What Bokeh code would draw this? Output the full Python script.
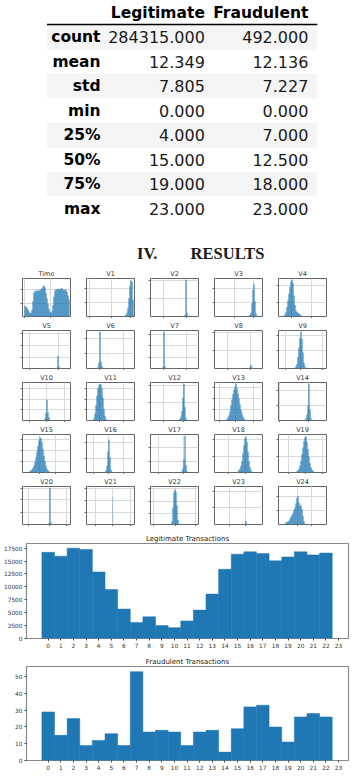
from bokeh.plotting import figure
from bokeh.layouts import column, gridplot
from bokeh.models import Range1d, FixedTicker
from bokeh.core.properties import value
from bokeh.embed import file_html
from bokeh.resources import INLINE

# ---------------- data ----------------
TABLE_COLUMNS = ["Legitimate", "Fraudulent"]
STAT_NAMES = ["count", "mean", "std", "min", "25%", "50%", "75%", "max"]
LEGIT_STATS = [284315.000, 12.349, 7.805, 0.000, 4.000, 15.000, 19.000, 23.000]
FRAUD_STATS = [492.000, 12.136, 7.227, 0.000, 7.000, 12.500, 18.000, 23.000]

HEADING_NUM = "IV."
HEADING_TEXT = "RESULTS"

PANEL_NAMES = ["Time", "V1", "V2", "V3", "V4", "V5", "V6", "V7", "V8", "V9",
               "V10", "V11", "V12", "V13", "V14", "V15", "V16", "V17", "V18", "V19",
               "V20", "V21", "V22", "V23", "V24"]
PANEL_FIRST_BIN = [2, 37, 33, 34, 5, 34, 11, 12, 35, 16,
                   22, 6, 28, 11, 26, 5, 18, 31, 22, 17,
                   26, 26, 21, 30, 7]
PANEL_COUNTS = [
    [27, 26, 23, 18, 14, 10, 9, 18, 40, 62, 68, 66, 69, 67, 70, 68, 72, 74, 78, 82,
     76, 62, 48, 32, 20, 12, 9, 14, 30, 52, 68, 72, 70, 73, 71, 74, 72, 75, 70, 72,
     69, 71, 65, 55, 45],
    [1, 2, 4, 10, 22, 48, 80, 95, 92, 45],
    [1, 4, 97, 10, 2],
    [2, 4, 10, 35, 70, 85, 40, 8, 2],
    [2, 5, 12, 25, 42, 60, 78, 92, 97, 88, 55, 30, 16, 12, 9, 7, 6, 3, 1],
    [2, 33, 5],
    [3, 15, 96, 18, 6, 2],
    [4, 97, 6],
    [3, 10, 3],
    [2, 5, 12, 30, 55, 80, 97, 78, 42, 15, 5, 2],
    [5, 20, 55, 22, 8, 2],
    [2, 5, 18, 40, 65, 85, 93, 96, 95, 85, 60, 30, 12, 4, 1],
    [2, 4, 10, 25, 60, 97, 35, 6, 1],
    [1, 4, 8, 14, 24, 40, 55, 70, 80, 88, 97, 85, 72, 58, 42, 28, 18, 10, 5, 2, 1],
    [2, 5, 15, 40, 97, 30, 5, 1],
    [1, 2, 3, 5, 8, 12, 18, 28, 40, 55, 70, 84, 92, 90, 80, 62, 45, 30, 18, 10, 5, 3, 1],
    [2, 5, 18, 55, 86, 40, 8, 2],
    [3, 10, 35, 97, 20, 3],
    [1, 3, 6, 10, 18, 30, 50, 72, 90, 95, 80, 55, 30, 14, 6, 2],
    [1, 3, 6, 10, 18, 30, 48, 66, 82, 92, 95, 80, 62, 42, 25, 14, 8, 4, 2, 1],
    [3, 97, 5],
    [73],
    [8, 45, 85, 92, 86, 50, 12, 2],
    [2, 9, 2],
    [5, 6, 8, 10, 15, 20, 25, 30, 38, 45, 55, 70, 75, 58, 48, 52, 40, 22, 8, 2],
]
PANEL_XTICKS = [
    [2, 28], [3, 25, 44], [13, 35.5], [19.5, 39], [13, 33],
    [7, 36], [13, 36.5], [13, 36], [13, 36], [7, 22, 44],
    [6.5, 24, 42], [13, 36.5], [13, 32.5], [4.6, 21, 39], [1, 30],
    [17, 32.5], [7, 22, 36.6], [8, 33.4], [13.7, 30.7], [9.7, 26.6, 43.8],
    [5.5, 27, 44], [8.8, 26, 43.8], [3, 25, 45], [15.4, 31], [18.5, 33.4],
]
PANEL_YTICKS = [
    [35, 70], [37, 75], [48, 94], [38, 75], [38, 82],
    [30, 61, 92], [40, 79], [28, 60, 90], [48, 94], [48, 86],
    [28, 56, 83], [28, 56, 84], [47, 92], [30, 58, 87], [39, 79],
    [28, 57, 86], [38, 78], [30, 65], [42, 86], [42, 86],
    [32, 65, 94], [32, 62, 94], [28, 61, 94], [44, 86], [38, 75],
]

HOURS = list(range(23))
HOUR_TICKS = list(range(24))
LEGIT_COUNTS = [16700, 15950, 17500, 17250, 12900, 9500, 5700, 3100, 4200, 2500, 2100,
                3400, 5500, 8600, 13400, 16350, 16800, 16450, 15050, 15800, 16800, 16200, 16550]
FRAUD_COUNTS = [29, 15, 25, 9, 12, 16, 9, 53, 17, 18, 17, 9, 17, 18, 5, 19, 32, 33, 20, 11, 26, 28, 26]
LEGIT_YTICKS = [0, 2500, 5000, 7500, 10000, 12500, 15000, 17500]
FRAUD_YTICKS = [0, 10, 20, 30, 40, 50]

BLUE = "#1f77b4"
W = 361

# ---------------- table + heading ----------------
top = figure(width=W, height=266, x_range=Range1d(0, 361), y_range=Range1d(266, 0),
             x_axis_location=None, y_axis_location=None, output_backend="svg",
             toolbar_location=None, min_border=0)
top.grid.visible = False
top.outline_line_color = None

row_y = [36.7 + 24.5 * i for i in range(len(STAT_NAMES))]
stripe_y = [y for i, y in enumerate(row_y) if i % 2 == 0]
top.rect(x=174.5, y=stripe_y, width=303, height=24.5, fill_color="#f5f5f5", line_color=None)
top.segment(x0=[23], y0=[24], x1=[326], y1=[24], line_color="black", line_width=1.5)

top.text(x=[200, 316], y=[12, 12], text=TABLE_COLUMNS, text_align="right", text_baseline="middle",
         text_font=value("DejaVu Sans"), text_font_style="bold", text_font_size="15.5px", text_color="black")
top.text(x=83, y=row_y, text=STAT_NAMES, text_align="right", text_baseline="middle",
         text_font=value("DejaVu Sans"), text_font_style="bold", text_font_size="15.5px", text_color="black")
top.text(x=200, y=row_y, text=[f"{v:.3f}" for v in LEGIT_STATS], text_align="right", text_baseline="middle",
         text_font=value("DejaVu Sans"), text_font_size="16px", text_color="#1a1a1a")
top.text(x=316, y=row_y, text=[f"{v:.3f}" for v in FRAUD_STATS], text_align="right", text_baseline="middle",
         text_font=value("DejaVu Sans"), text_font_size="16px", text_color="#1a1a1a")

top.text(x=[124, 184], y=[253, 253], text=[HEADING_NUM, HEADING_TEXT], text_align="left",
         text_baseline="middle", text_font=value("Liberation Serif"), text_font_style="bold",
         text_font_size="16.5px", text_color="#1a1a1a")

# ---------------- small multiples ----------------
panels = []
for name, first, counts, xt, yt in zip(PANEL_NAMES, PANEL_FIRST_BIN, PANEL_COUNTS, PANEL_XTICKS, PANEL_YTICKS):
    p = figure(width=64, height=52, x_range=Range1d(0, 48), y_range=Range1d(0, 100),
               output_backend="svg", toolbar_location=None, title=name,
               min_border_left=14, min_border_right=2, min_border_top=0, min_border_bottom=2)
    p.title.text_font = "DejaVu Sans"
    p.title.text_font_size = "6.5px"
    p.title.text_font_style = "normal"
    p.title.text_color = "#333333"
    p.title.align = "center"
    p.title.standoff = 1.5
    lefts = [first + i for i in range(len(counts))]
    single = len(counts) == 1
    widths = [0.6] if single else [1.0] * len(counts)
    rights = [l + w for l, w in zip(lefts, widths)]
    p.quad(left=lefts, right=rights, bottom=0, top=counts, fill_color=BLUE,
           fill_alpha=0.5 if single else 1.0, line_color=None)
    p.xaxis.ticker = FixedTicker(ticks=xt)
    p.yaxis.ticker = FixedTicker(ticks=yt)
    p.xgrid.ticker = FixedTicker(ticks=xt)
    p.ygrid.ticker = FixedTicker(ticks=yt)
    p.grid.grid_line_color = "#d9d9d9"
    p.grid.grid_line_width = 1
    for ax in (p.xaxis, p.yaxis):
        ax.major_label_text_color = None
        ax.major_label_text_font_size = "1px"
        ax.major_label_standoff = 0
        ax.major_tick_out = 2
        ax.major_tick_in = 0
        ax.minor_tick_line_color = None
        ax.axis_line_color = None
        ax.major_tick_line_color = "#666666"
    p.outline_line_color = "#666666"
    p.outline_line_width = 1
    panels.append(p)

grid = gridplot(panels, ncols=5, toolbar_location=None)
grid.margin = (0, 0, 0, 8)


# ---------------- hourly bar charts ----------------
def bar_chart(title, counts, yticks, ymax, height, top_border, bottom_border):
    p = figure(width=W, height=height, x_range=Range1d(-1.72, 23.79), y_range=Range1d(0, ymax),
               output_backend="svg", toolbar_location=None, title=title,
               min_border_left=26, min_border_right=13, min_border_top=top_border,
               min_border_bottom=bottom_border)
    p.vbar(x=HOURS, top=counts, width=1, fill_color=BLUE, line_color=BLUE, line_width=0.5)
    p.title.text_font = "DejaVu Sans"
    p.title.text_font_size = "7px"
    p.title.text_font_style = "normal"
    p.title.text_color = "#222222"
    p.title.align = "center"
    p.title.standoff = 2
    p.xaxis.ticker = FixedTicker(ticks=HOUR_TICKS)
    p.yaxis.ticker = FixedTicker(ticks=yticks)
    p.grid.visible = False
    for ax in (p.xaxis, p.yaxis):
        ax.major_label_text_font = "DejaVu Sans"
        ax.major_label_text_font_size = "5.8px"
        ax.major_label_text_color = "#333333"
        ax.major_label_standoff = 2
        ax.major_tick_out = 2
        ax.major_tick_in = 0
        ax.minor_tick_line_color = None
        ax.axis_line_color = None
        ax.major_tick_line_color = "#444444"
    p.outline_line_color = "#8a8a8a"
    p.outline_line_width = 1.2
    return p


legit = bar_chart("Legitimate Transactions", LEGIT_COUNTS, LEGIT_YTICKS, 18410, 126, 17, 14)
fraud = bar_chart("Fraudulent Transactions", FRAUD_COUNTS, FRAUD_YTICKS, 56.1, 121, 14, 13)

layout = column(top, grid, legit, fraud)

open("out.html", "w").write(file_html(layout, INLINE))
